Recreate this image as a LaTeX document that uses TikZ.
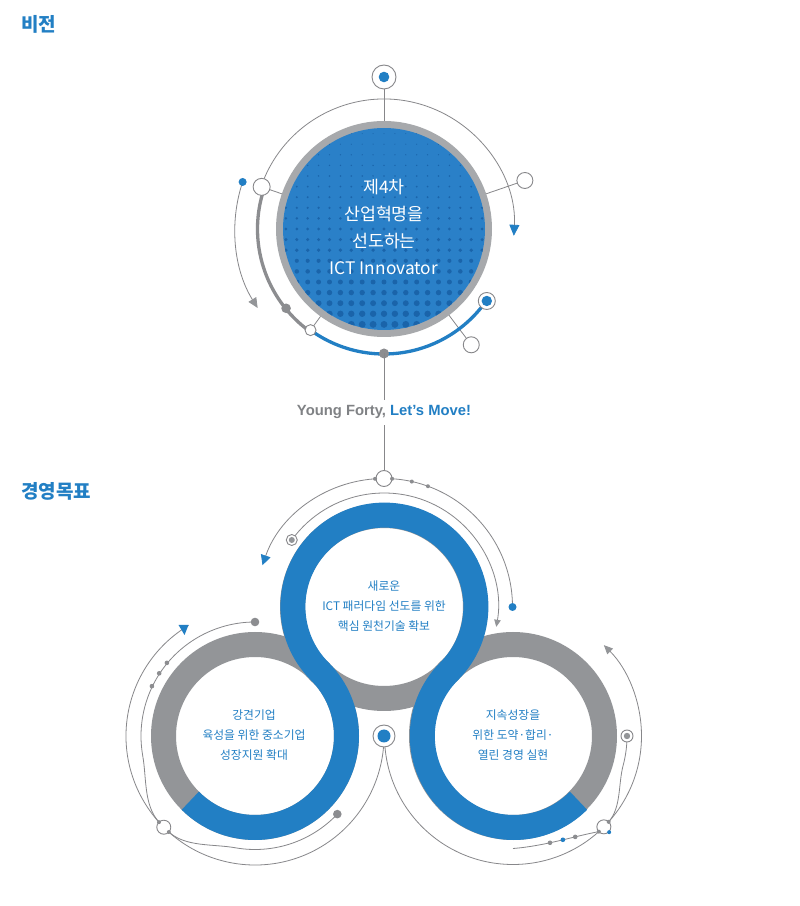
\documentclass[tikz,border=0pt]{standalone}
\usepackage{fontspec}
\setmainfont{Noto Sans CJK KR}
\newfontfamily\latinb{Liberation Sans}
\usetikzlibrary{arrows.meta,calc}
\definecolor{mblue}{RGB}{34,127,196}
\definecolor{vblue}{RGB}{42,128,200}
\definecolor{dblue}{RGB}{26,100,170}
\definecolor{rgray}{RGB}{167,169,172}
\definecolor{mgray}{RGB}{147,149,152}
\definecolor{dgray}{RGB}{140,141,144}
\definecolor{lgray}{RGB}{135,135,138}
\definecolor{sgray}{RGB}{128,130,133}
\begin{document}
\begin{tikzpicture}[x=1pt,y=1pt,
  thinline/.style={draw=lgray,line width=0.8pt},
  opencirc/.style={draw=lgray,fill=white,line width=0.9pt},
  ringtext/.style={text=mblue,align=center,inner sep=0pt,font=\fontsize{11.8}{20}\selectfont},
  header/.style={anchor=west,inner sep=0pt,text=mblue,font=\bfseries\fontsize{19}{21}\selectfont}]
\useasboundingbox (0,0) rectangle (800,906);
\fill[white] (0,0) rectangle (800,906);

% headers
\node[header] (h1) at (21,882) {비전};
\node[header] (h2) at (21,415) {경영목표};

% ================= vision =================
\coordinate (V) at (384,677);
\coordinate (topm) at (384,829);
\draw[thinline] (topm) -- ($(V)+(90:108)$);
\draw[thinline,-{Triangle[length=11pt,width=10pt,color=mblue]}] ($(V)+(161:130)$) arc[start angle=161,end angle=-3,radius=130];
\draw[thinline,-{Triangle[length=10pt,width=9pt,color=mgray]}] ($(V)+(161.6:149)$) arc[start angle=161.6,end angle=212,radius=149];
\fill[mblue] ($(V)+(161.6:149)$) circle (4);

\fill[rgray] (V) circle (108);
\fill[vblue] (V) circle (101);
\begin{scope}
\clip (V) circle (101);
\foreach \j in {-10,...,10}{
 \foreach \i in {-10,...,10}{
   \pgfmathsetmacro\doty{677-\j*10.6}
   \pgfmathsetmacro\dott{(778-\doty)/202}
   \pgfmathsetmacro\dotr{0.5+1.0*\dott+2.1*\dott*\dott}
   \fill[dblue] (384+\i*10.9,\doty) circle (\dotr);
 }}
\end{scope}

% radial lines
\draw[thinline] ($(V)+(161:108)$) -- ($(V)+(161:129)$);
\draw[thinline] ($(V)+(19:108)$) -- ($(V)+(19:149)$);
\draw[thinline] ($(V)+(-53:108)$) -- ($(V)+(-53:145)$);
\draw[thinline] ($(V)+(234:108)$) -- ($(V)+(234:125)$);
% thick arcs
\draw[dgray,line width=3.3pt] ($(V)+(161:126.5)$) arc[start angle=161,end angle=234,radius=126.5];
\draw[mblue,line width=3.3pt] ($(V)+(234:125)$) arc[start angle=234,end angle=325,radius=125];
\fill[dgray] ($(V)+(219:126)$) circle (4.8);
\coordinate (vdot) at ($(V)+(270:124.5)$);
\fill[dgray] (vdot) circle (5);
% open circles
\coordinate (vc1) at ($(V)+(161:129.4)$);
\coordinate (vc2) at ($(V)+(19:149)$);
\coordinate (vc3) at ($(V)+(-53:145)$);
\coordinate (vc4) at ($(V)+(234:125)$);
\coordinate (vc5) at ($(V)+(325:125.5)$);
\path[opencirc] (vc1) circle (8.5);
\path[opencirc] (vc2) circle (8);
\path[opencirc] (vc3) circle (8);
\path[opencirc] (vc4) circle (5.5);
\path[opencirc] (vc5) circle (8.5);
\fill[mblue] (vc5) circle (5.2);
\path[opencirc] (topm) circle (12);
\fill[mblue] (topm) circle (5.3);

\node[text=white,align=center,inner sep=0pt,font=\fontsize{17.3}{26.7}\selectfont] (vtext) at (384,679) {제4차\\산업혁명을\\선도하는\\ICT Innovator};

% slogan
\node[anchor=base,inner ysep=6pt,inner xsep=0pt,font=\latinb\bfseries\fontsize{14.8}{16}\selectfont] (slog) at (384,490) {\textcolor{sgray}{Young Forty,} \textcolor{mblue}{Let’s Move!}};
\draw[thinline] (vdot) -- (slog.north);

% ================= goals =================
\coordinate (T) at (384,299);
\coordinate (L) at (255,170);
\coordinate (R) at (513,170);
\coordinate (toc) at ($(T)+(90:128.5)$);
\draw[thinline] (slog.south) -- (toc);

\fill[mgray,even odd rule] (T) circle (104) (T) circle (79);
\fill[mgray,even odd rule] (L) circle (104) (L) circle (79);
\fill[mgray,even odd rule] (R) circle (104) (R) circle (79);
\draw[mblue,line width=25pt] ($(L)+(225:91.5)$) arc[start angle=225,end angle=405,radius=91.5]
   arc[start angle=225,end angle=-45,radius=91.5]
   arc[start angle=135,end angle=315,radius=91.5];

% top ring decorations
\draw[thinline,-{Triangle[length=10pt,width=10pt,color=mblue]}] ($(T)+(0:128.5)$) arc[start angle=0,end angle=161,radius=128.5];
\fill[mblue] ($(T)+(0:128.5)$) circle (4);
\draw[thinline,-{Triangle[length=7pt,width=6.5pt,color=mgray]}] ($(T)+(144:114)$) arc[start angle=144,end angle=-10,radius=114];
\coordinate (tmk) at ($(T)+(144:114)$);
\path[opencirc] (tmk) circle (5.5);
\fill[mgray] (tmk) circle (3);
\path[opencirc] (toc) circle (8);
\foreach \a in {94,86.4,77.5,70} \fill[dgray] ($(T)+(\a:128.5)$) circle (2);

% left ring decorations
\coordinate (loc) at ($(L)+(225:129)$);
\coordinate (lin1) at ($(L)+(221.9:129)$);
\coordinate (lin2) at ($(L)+(228.1:129)$);
\draw[thinline] ($(L)+(121:129)$) arc[start angle=121,end angle=360,radius=129];
\fill[mblue] (178.5,281) -- (188.5,281) -- (184.5,271) -- cycle;
\draw[thinline] ($(L)+(90:114)$) arc[start angle=90,end angle=190,radius=114]
   .. controls (146.7,127.6) and (143.6,101) .. (lin1);
\fill[dgray] ($(L)+(90:114)$) circle (4.3);
\foreach \a in {140.3,146.8,154.2} \fill[dgray] ($(L)+(\a:114.5)$) circle (2.3);
\draw[thinline] ($(L)+(-43.5:113.5)$) arc[start angle=-43.5,end angle=-100,radius=113.5]
   .. controls (212.8,62.2) and (185.8,58.8) .. (lin2);
\fill[dgray] ($(L)+(-43.5:113.5)$) circle (4.3);
\path[opencirc] (loc) circle (7);
\fill[dgray] (lin1) circle (2);
\fill[dgray] (lin2) circle (2);

% right ring decorations
\coordinate (roc) at ($(R)+(-45:128.5)$);
\coordinate (rin1) at ($(R)+(-41.9:128.5)$);
\coordinate (rin2) at ($(R)+(-48.1:128.5)$);
\coordinate (rbs) at (513,57.5);
\draw[thinline,-{Triangle[length=9pt,width=8pt,color=mgray]}] ($(R)+(180:128.5)$) arc[start angle=180,end angle=405,radius=128.5];
\draw[thinline] ($(R)+(0:114)$) arc[start angle=0,end angle=-15,radius=114]
   .. controls (618.2,122.1) and (621.3,98.3) .. (rin1);
\draw[thinline] (rbs) .. controls (545,60) and (575,70) .. (rin2);
\coordinate (rmk) at ($(R)+(0:114)$);
\path[opencirc] (rmk) circle (6);
\fill[mgray] (rmk) circle (3.2);
\fill[dgray] (550,63.2) circle (2.3);
\fill[mblue] (562.9,66.2) circle (2.3);
\fill[dgray] (575.2,69.1) circle (2.3);
\path[opencirc] (roc) circle (7);
\fill[dgray] (rin1) circle (2);
\fill[dgray] (rin2) circle (2);
\fill[mblue] ($(R)+(-45:136)$) circle (2);

% center marker
\coordinate (cm) at (384,170);
\path[opencirc] (cm) circle (11);
\fill[mblue] (cm) circle (6.5);

% ring texts
\node[ringtext] (t1) at (384,300) {새로운\\ICT 패러다임 선도를 위한\\핵심 원천기술 확보};
\node[ringtext] (t2) at (254,171) {강견기업\\육성을 위한 중소기업\\성장지원 확대};
\node[ringtext] (t3) at (513,171) {지속성장을\\위한 도약·합리·\\열린 경영 실현};
\end{tikzpicture}
\end{document}
